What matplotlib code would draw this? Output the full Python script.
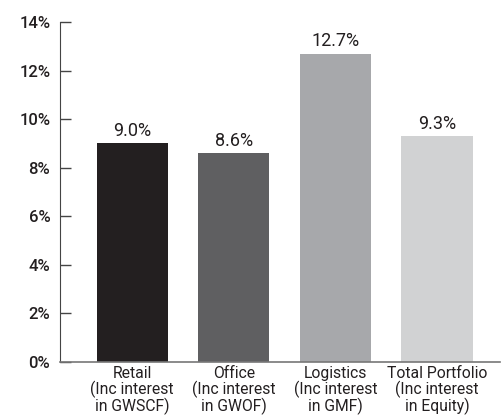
import matplotlib.pyplot as plt
import numpy as np

# data
categories = ["Retail\n(Inc interest\nin GWSCF)", "Office\n(Inc interest\nin GWOF)",
              "Logistics\n(Inc interest\nin GMF)", "Total Portfolio\n(Inc interest\nin Equity)"]
values = [9.0, 8.6, 12.7, 9.3]
colors = ["#231f20", "#5f5f61", "#a7a8ab", "#d1d2d3"]
yticks = [0, 2, 4, 6, 8, 10, 12, 14]

plt.rcParams['font.family'] = ['Roboto', 'DejaVu Sans']

fig = plt.figure(figsize=(5.02, 4.17), dpi=100)
ax = fig.add_axes([0.1195, 0.1319, 0.8765, 0.8153])

x = np.arange(len(categories))
bars = ax.bar(x, values, width=0.7, color=colors, zorder=2)

for b, v in zip(bars, values):
    ax.text(b.get_x() + b.get_width() / 2, v + 0.15, f"{v:.1f}%",
            ha="center", va="bottom", fontsize=13, color="#231f20")

ax.set_xlim(-0.71, 3.62)
ax.set_ylim(0, 14)
ax.set_yticks(yticks)
ax.set_yticklabels([f"{t}%" for t in yticks], fontsize=12, fontweight="medium", color="#231f20")
ax.tick_params(axis="y", direction="in", length=8, width=1, color="#444444", pad=7)
ax.set_xticks(x)
ax.set_xticklabels(categories, fontsize=11.3, linespacing=0.98, color="#231f20")
ax.tick_params(axis="x", length=0, pad=3)

for s in ["top", "right"]:
    ax.spines[s].set_visible(False)
ax.spines["left"].set_color("#444444")
ax.spines["bottom"].set_color("#777777")
ax.spines["bottom"].set_linewidth(1.2)

fig.savefig("out.png", dpi=100)
